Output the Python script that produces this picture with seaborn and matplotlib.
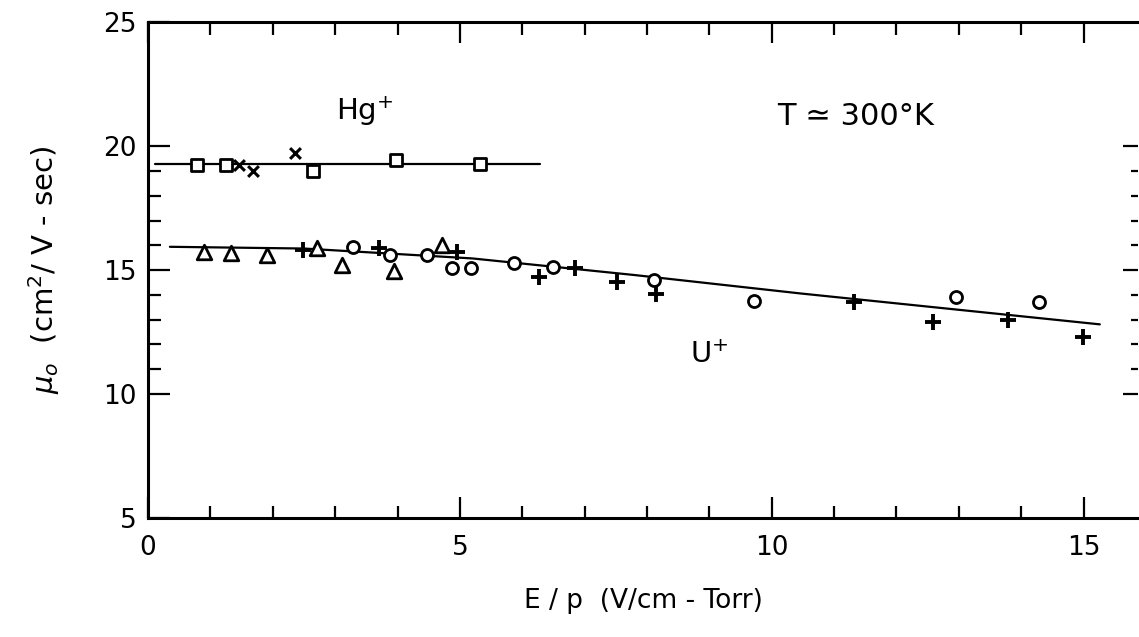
import numpy as np
import matplotlib
matplotlib.use("Agg")
import matplotlib.pyplot as plt
import seaborn as sns

sns.set_style("white")
plt.rcParams["font.family"] = ["DejaVu Sans"]
plt.rcParams["mathtext.fontset"] = "dejavusans"
plt.rcParams["text.color"] = "black"
plt.rcParams["axes.labelcolor"] = "black"
plt.rcParams["xtick.color"] = "black"
plt.rcParams["ytick.color"] = "black"

# Hg+ data
hg_sq_x = [0.78, 1.25, 2.64, 3.97, 5.33]
hg_sq_y = [19.23, 19.23, 19.00, 19.46, 19.30]
hg_x_x = [1.45, 1.69, 2.36]
hg_x_y = [19.23, 19.00, 19.71]
hg_fit_x = [0.11, 6.28]
hg_fit_y = [19.30, 19.30]

# U+ data
u_tri_x = [0.89, 1.33, 1.91, 2.71, 3.11, 3.95, 4.71]
u_tri_y = [15.74, 15.67, 15.60, 15.88, 15.20, 14.97, 16.01]
u_plus_x = [2.48, 3.70, 4.96, 6.27, 6.85, 7.52, 8.15, 11.32, 12.59, 13.78, 14.99]
u_plus_y = [15.81, 15.88, 15.74, 14.73, 15.07, 14.53, 14.03, 13.72, 12.92, 12.98, 12.31]
u_circ_x = [3.29, 3.88, 4.47, 4.87, 5.17, 5.86, 6.50, 8.11, 9.72, 12.95, 14.29]
u_circ_y = [15.92, 15.60, 15.60, 15.07, 15.07, 15.27, 15.11, 14.62, 13.76, 13.90, 13.72]
u_fit_x = [0.35, 2.5, 5.2, 7.8, 10.45, 15.26]
u_fit_y = [15.94, 15.87, 15.47, 14.80, 14.06, 12.81]

fig = plt.figure(figsize=(11.39, 6.37), dpi=100)
ax = fig.add_axes([0.130, 0.187, 0.869, 0.778])

# fit lines
sns.lineplot(x=hg_fit_x, y=hg_fit_y, color="black", linewidth=1.6, ax=ax, zorder=1)
sns.lineplot(x=u_fit_x, y=u_fit_y, color="black", linewidth=1.6, ax=ax, zorder=1)

# points
open_kw = dict(color="white", edgecolor="black", linewidth=2.0, ax=ax, zorder=3)
sns.scatterplot(x=hg_sq_x, y=hg_sq_y, marker="s", s=80, **open_kw)
sns.scatterplot(x=u_tri_x, y=u_tri_y, marker="^", s=110, **open_kw)
sns.scatterplot(x=u_circ_x, y=u_circ_y, marker="o", s=75, **open_kw)
sns.scatterplot(x=hg_x_x, y=hg_x_y, marker="x", s=60, color="black", linewidth=2.2, ax=ax, zorder=3)
sns.scatterplot(x=u_plus_x, y=u_plus_y, marker="+", s=130, color="black", linewidth=2.8, ax=ax, zorder=3)

ax.set_xlim(0, 15.87)
ax.set_ylim(5, 25)

# labels inside plot
ax.text(3.02, 21.05, "Hg$^{+}$", fontsize=21, va="baseline", ha="left")
ax.text(10.08, 20.85, "T \u2243 300\u00b0K", fontsize=22, va="baseline", ha="left")
ax.text(8.69, 11.24, "U$^{+}$", fontsize=21, va="baseline", ha="left")

# axes labels
ax.set_xlabel("E / p  (V/cm - Torr)", fontsize=19, labelpad=20)
ax.set_ylabel("$\\mu_o$  (cm$^2$/ V - sec)", fontsize=21, labelpad=30)

# spines
for side in ["left", "bottom", "top"]:
    ax.spines[side].set_linewidth(2.2)
    ax.spines[side].set_color("black")
ax.spines["right"].set_visible(False)

# ticks
ax.set_xticks([0, 5, 10, 15])
ax.set_xticks([1, 2, 3, 4, 6, 7, 8, 9, 11, 12, 13, 14], minor=True)
ax.set_yticks([5, 10, 15, 20, 25])
ax.set_yticks([11, 12, 13, 14, 16, 17, 18, 19], minor=True)
ax.tick_params(which="both", direction="in", top=True, bottom=True, left=True, right=False,
               width=1.6, labelsize=19, color="black")
ax.tick_params(axis="x", which="major", length=15, pad=12)
ax.tick_params(axis="x", which="minor", length=9)
ax.tick_params(axis="y", which="major", length=16, pad=8)
ax.tick_params(axis="y", which="minor", length=9)

# right-hand ticks (no spine)
ax2 = ax.twinx()
ax2.set_ylim(5, 25)
ax2.set_yticks([10, 15, 20])
ax2.set_yticks([11, 12, 13, 14, 16, 17, 18, 19], minor=True)
ax2.tick_params(which="both", direction="in", labelright=False, width=1.6, color="black")
ax2.tick_params(which="major", length=11)
ax2.tick_params(which="minor", length=5)
for sp in ax2.spines.values():
    sp.set_visible(False)

fig.savefig("out.png", dpi=100)
